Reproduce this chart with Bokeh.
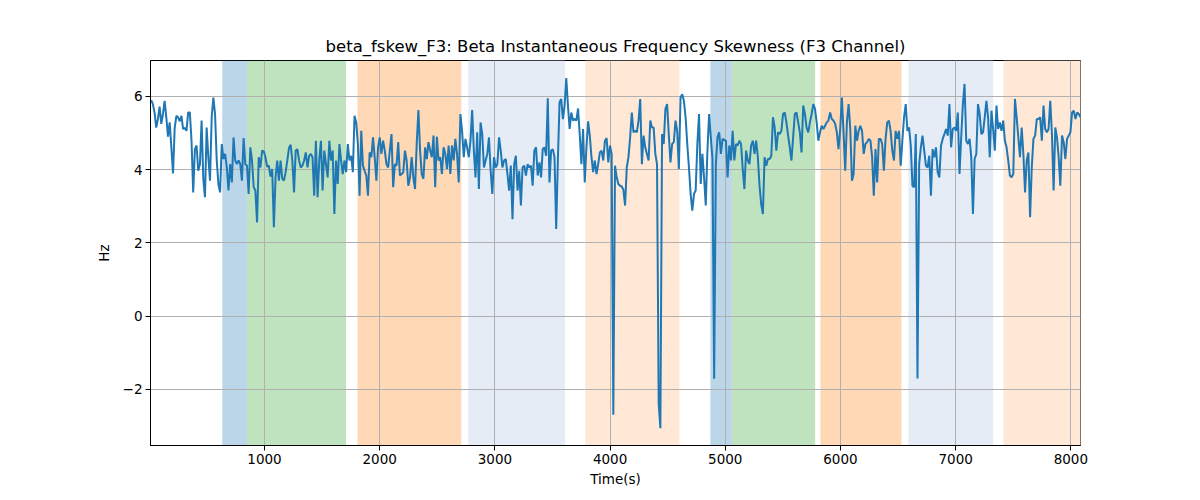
import numpy as np
from bokeh.plotting import figure
from bokeh.models import BoxAnnotation, Range1d, FixedTicker
from bokeh.embed import file_html
from bokeh.resources import INLINE

# ---- data ----
values_part1 = [
    5.9, 5.79, 5.56, 5.15, 5.38, 5.72, 5.25, 5.52, 5.88, 5.43,
    4.9, 5.29, 4.61, 3.9, 5.15, 5.47, 5.43, 5.32, 5.47, 5.11,
    5.14, 5.06, 5.56, 5.56, 4.79, 3.38, 4.56, 4.66, 3.97, 4.15,
    5.34, 3.75, 3.25, 5.15, 4.34, 3.70, 5.43, 5.97, 5.52, 4.25,
    3.61, 3.38, 4.70, 4.29, 4.43, 4.06, 3.43, 4.15, 3.65, 4.88,
    4.25, 4.15, 4.25, 4.15, 3.70, 4.86, 4.15, 4.11, 3.34, 4.61,
    4.25, 3.52, 3.43, 2.56, 4.34, 4.06, 4.52, 4.50, 4.34, 4.08,
    4.11, 3.81, 4.02, 2.43, 3.79, 4.25, 3.70, 4.25, 3.75, 3.70,
    3.93, 4.25, 4.59, 4.68, 4.25, 3.38, 4.52, 4.56, 4.25, 4.06,
    4.11, 4.25, 4.47, 4.06, 4.38, 4.43, 4.34, 3.29, 4.79, 3.25,
    4.25, 4.79, 3.43, 4.52, 4.15, 3.79, 4.79, 4.25, 4.52, 2.79,
    4.25, 3.61, 4.70, 4.25, 3.88, 4.25, 3.93, 4.70, 4.25, 4.38,
    3.93, 5.47, 5.29, 4.70, 3.29, 5.06, 4.11, 3.97, 3.84, 3.29,
    4.47, 4.34, 4.88, 4.34, 3.70, 4.61,
]
values_part2 = [
    4.88, 4.43, 4.79, 4.52, 4.15, 4.06, 4.52, 4.97, 3.52, 4.15,
    4.11, 4.75, 3.84, 3.88, 3.93, 4.52, 4.25, 3.56, 3.79, 4.34,
    3.79, 3.47, 4.70, 5.63, 4.52, 3.88, 3.75, 4.61, 4.29, 4.75,
    4.52, 4.34, 4.93, 3.52, 4.90, 4.25, 4.34, 3.88, 4.61, 4.43,
    4.02, 4.66, 3.88, 4.66, 4.25, 4.84, 4.43, 3.65, 5.52, 5.06,
    4.34, 4.84, 4.61, 4.34, 4.79, 5.63, 4.52, 3.79, 5.02, 3.47,
    5.29, 4.97, 4.06, 4.25, 4.43, 4.88, 3.97, 3.34, 4.34, 4.06,
    4.15, 4.88, 4.52, 4.06, 4.25, 4.29, 3.88, 3.43, 4.11, 2.65,
    4.15, 4.38, 3.43, 3.97, 3.02, 4.06, 4.11, 3.84, 4.15, 4.06,
    4.11, 3.56, 4.52, 4.61, 3.84, 4.20, 3.79, 4.56, 4.61, 4.38,
    5.95, 3.65, 4.52, 4.56, 4.34, 2.38, 4.25, 5.84, 5.93, 5.38,
    5.75, 6.50, 5.75, 5.11, 5.56, 5.34, 5.38, 5.34, 5.67, 4.97,
    4.15, 5.11, 3.65, 4.61, 5.32, 4.93, 4.34, 3.93, 4.25, 3.88,
    4.15, 4.47, 4.52, 4.25, 4.79, 4.86,
]
values_part3 = [
    4.20, 4.66, 4.43, -2.69, 4.11, 3.79, 3.61, 3.56, 3.54, 3.45,
    3.02, 4.06, 4.34, 4.88, 5.56, 5.02, 5.06, 5.02, 5.34, 5.93,
    4.15, 4.93, 4.61, 4.43, 4.25, 5.34, 5.15, 5.15, 4.43, 4.15,
    -2.40, -3.06, 4.97, 4.70, 5.66, 5.79, 4.97, 4.20, 4.70, 4.75,
    5.34, 5.06, 4.02, 5.97, 6.06, 5.88, 5.43, 4.70, 4.06, 3.34,
    2.88, 3.34, 3.43, 4.70, 5.52, 3.61, 4.43, 3.79, 3.02, 4.52,
    5.52, 4.88, 4.30, -1.71, 4.15, 4.88, 5.02, 4.43, 4.84, 4.81,
    4.79, 3.79, 4.66, 4.25, 5.06, 4.25, 4.70, 4.66, 4.79, 4.70,
    4.02, 3.47, 4.52, 4.25, 4.15, 4.66, 4.79, 4.43, 4.79, 4.34,
    3.56, 3.06, 2.79, 4.34, 4.11, 4.29, 4.29, 4.38, 5.43, 5.15,
    4.52, 5.02, 4.97, 5.06, 5.52, 5.56, 5.29, 4.93, 4.61, 4.25,
    4.88, 5.52, 5.56, 5.29, 5.02, 4.47, 5.75, 5.52, 5.15, 5.02,
    5.29, 5.52, 5.79, 5.66, 5.29, 4.79, 5.02, 5.20, 5.11, 5.20,
    5.29, 5.34, 5.56, 5.38, 5.34, 5.25, 5.02, 4.56,
]
values_part4 = [
    5.10, 5.97, 5.00, 3.97, 5.30, 5.79, 5.11, 3.70, 3.88, 5.20,
    4.79, 5.06, 5.20, 5.06, 4.43, 4.70, 4.75, 4.84, 4.79, 4.34,
    3.29, 4.56, 3.65, 4.84, 4.84, 4.70, 3.97, 4.84, 5.29, 5.34,
    5.06, 4.52, 4.25, 5.06, 4.84, 5.06, 4.11, 4.79, 5.43, 5.79,
    5.06, 5.15, 4.66, 3.56, 3.52, 4.97, -1.70, 4.15, 4.61, 4.93,
    4.52, 4.11, 4.06, 4.38, 3.29, 4.56, 4.34, 4.61, 3.93, 3.79,
    4.66, 4.84, 4.97, 5.11, 4.93, 5.79, 4.61, 5.11, 5.15, 5.06,
    5.56, 3.88, 4.88, 5.79, 6.34, 4.79, 4.70, 4.84, 4.34, 2.79,
    4.29, 4.43, 5.79, 5.52, 4.97, 5.02, 5.43, 5.88, 5.43, 4.34,
    5.61, 5.11, 4.52, 5.75, 5.11, 5.29, 5.06, 5.34, 4.79, 4.61,
    4.25, 3.84, 3.79, 3.88, 5.93, 5.43, 4.88, 4.34, 5.15, 4.43,
    3.38, 4.25, 4.47, 2.70, 4.06, 4.84, 4.93, 5.38, 5.38, 5.43,
    4.79, 5.75, 5.11, 5.02, 5.11, 5.88, 4.97, 3.43, 5.15, 4.88,
    4.34, 3.56, 4.93, 4.75, 4.29, 4.84, 4.93, 5.02, 5.56, 5.61,
    5.38, 5.56, 5.52, 5.43,
]
time_start = 16
time_end = 8084

span_starts = [633, 847, 1807, 2769, 3785, 4871, 5056, 5826, 6590, 7415]
span_ends = [847, 1707, 2708, 3609, 4602, 5056, 5780, 6530, 7326, 8200]
span_kinds = ["blue", "green", "orange", "lightblue", "lightorange",
              "blue", "green", "orange", "lightblue", "lightorange"]

x_ticks = [1000, 2000, 3000, 4000, 5000, 6000, 7000, 8000]
y_ticks = [-2, 0, 2, 4, 6]

# ---- styles ----
kind_style = {
    "blue": ("#1f77b4", 0.3),
    "green": ("#2ca02c", 0.3),
    "orange": ("#ff7f0e", 0.3),
    "lightblue": ("#e5ecf6", 1.0),
    "lightorange": ("#ffe8d6", 1.0),
}

values = np.array(values_part1 + values_part2 + values_part3 + values_part4)
times = np.linspace(time_start, time_end, len(values))

FONT = "DejaVu Sans"

p = figure(
    width=1192, height=492,
    output_backend="svg", toolbar_location=None,
    x_range=Range1d(10, 8084), y_range=Range1d(-3.53, 6.98),
    min_border_left=150, min_border_right=112,
    min_border_top=60, min_border_bottom=47,
    title="beta_fskew_F3: Beta Instantaneous Frequency Skewness (F3 Channel)",
)
p.background_fill_color = "white"
p.border_fill_color = "white"
p.outline_line_color = "black"
p.outline_line_width = 1

p.title.align = "center"
p.title.text_font = FONT
p.title.text_font_size = "16.5px"
p.title.text_font_style = "normal"
p.title.text_color = "black"

for s, e, k in zip(span_starts, span_ends, span_kinds):
    c, a = kind_style[k]
    p.add_layout(BoxAnnotation(left=s, right=e, fill_color=c, fill_alpha=a,
                               line_color=None, level="image"))

p.line(times, values, line_color="#1f77b4", line_width=2)

p.xaxis.ticker = FixedTicker(ticks=x_ticks)
p.yaxis.ticker = FixedTicker(ticks=y_ticks)
p.yaxis.major_label_overrides = {t: (str(t).replace("-", "\u2212")) for t in y_ticks}

for ax in (p.xaxis, p.yaxis):
    ax.axis_line_color = "black"
    ax.major_tick_line_color = "black"
    ax.major_tick_out = 5
    ax.major_tick_in = 0
    ax.minor_tick_line_color = None
    ax.major_label_text_font = FONT
    ax.major_label_text_font_size = "13.5px"
    ax.major_label_text_color = "black"
    ax.axis_label_text_font = FONT
    ax.axis_label_text_font_size = "13.5px"
    ax.axis_label_text_font_style = "normal"
    ax.axis_label_text_color = "black"
    ax.major_label_standoff = 3

p.xaxis.axis_label = "Time(s)"
p.yaxis.axis_label = "Hz"
p.xaxis.axis_label_standoff = 4
p.yaxis.axis_label_standoff = 8

p.xgrid.ticker = FixedTicker(ticks=x_ticks)
p.ygrid.ticker = FixedTicker(ticks=y_ticks)
for g in (p.xgrid, p.ygrid):
    g.grid_line_color = "#b0b0b0"
    g.grid_line_width = 1

open("out.html", "w").write(file_html(p, INLINE))
